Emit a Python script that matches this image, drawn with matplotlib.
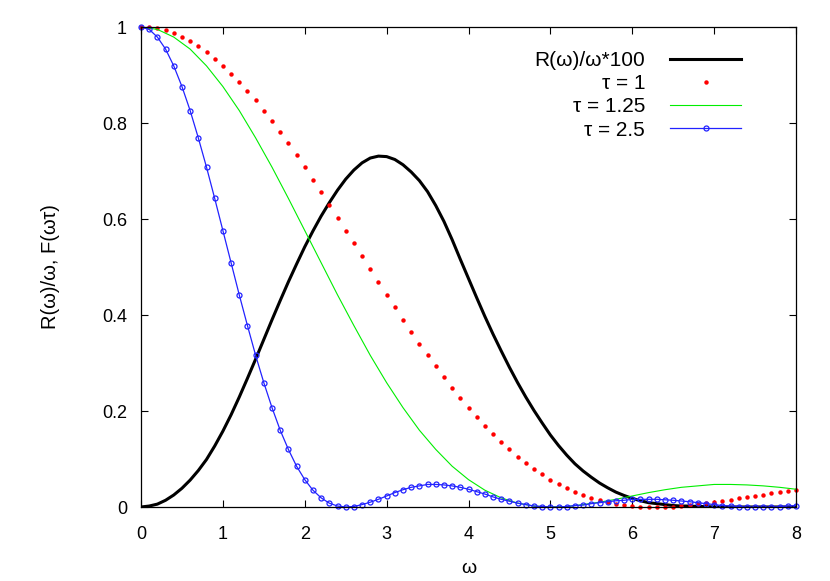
import numpy as np
import matplotlib
matplotlib.use("Agg")
import matplotlib.pyplot as plt

plt.rcParams['font.family'] = ['Liberation Sans', 'DejaVu Sans']

# R(w)/w*100 (step 0.1)
w_r = np.arange(0, 8.01, 0.1)
r_vals = [0.000, 0.002, 0.006, 0.014, 0.025, 0.039, 0.056, 0.076, 0.099, 0.127,
          0.158, 0.192, 0.229, 0.268, 0.308, 0.349, 0.390, 0.430, 0.469, 0.506,
          0.542, 0.575, 0.606, 0.634, 0.660, 0.683, 0.702, 0.717, 0.727, 0.731,
          0.730, 0.724, 0.713, 0.698, 0.680, 0.657, 0.628, 0.595, 0.557, 0.516,
          0.476, 0.436, 0.397, 0.360, 0.325, 0.291, 0.259, 0.229, 0.201, 0.175,
          0.150, 0.128, 0.108, 0.090, 0.075, 0.062, 0.050, 0.040, 0.031, 0.024,
          0.018, 0.013, 0.009, 0.007, 0.005, 0.003, 0.002, 0.002, 0.001, 0.001,
          0.000, 0.000, 0.000, 0.000, 0.000, 0.000, 0.000, 0.000, 0.000, 0.000,
          0.000]

# F(w*tau) for tau = 1 (red dots, step 0.1)
w_1 = np.arange(0, 8.01, 0.1)
f_tau1 = [1.000, 0.999, 0.997, 0.993, 0.987, 0.979, 0.970, 0.960, 0.948, 0.934,
          0.919, 0.903, 0.886, 0.867, 0.847, 0.826, 0.804, 0.781, 0.758, 0.733,
          0.708, 0.682, 0.656, 0.630, 0.603, 0.576, 0.549, 0.522, 0.495, 0.469,
          0.442, 0.416, 0.390, 0.365, 0.340, 0.316, 0.293, 0.270, 0.248, 0.227,
          0.207, 0.187, 0.169, 0.152, 0.135, 0.120, 0.105, 0.092, 0.079, 0.068,
          0.057, 0.048, 0.039, 0.032, 0.025, 0.019, 0.014, 0.010, 0.007, 0.004,
          0.002, 0.001, 0.000, 0.000, 0.000, 0.001, 0.002, 0.004, 0.006, 0.008,
          0.010, 0.013, 0.015, 0.018, 0.021, 0.023, 0.026, 0.029, 0.031, 0.034,
          0.036]

# tau = 1.25 (green line, step 0.2)
w_125 = np.arange(0, 8.01, 0.2)
f_tau125 = [1.000, 0.995, 0.979, 0.954, 0.919, 0.876, 0.826, 0.769, 0.708, 0.643,
            0.576, 0.509, 0.442, 0.378, 0.316, 0.259, 0.207, 0.160, 0.120, 0.085,
            0.057, 0.035, 0.019, 0.008, 0.002, 0.000, 0.001, 0.005, 0.010, 0.016,
            0.023, 0.030, 0.036, 0.041, 0.044, 0.047, 0.047, 0.046, 0.044, 0.041,
            0.037]

# tau = 2.5 (blue line with open circles, step 0.1)
w_25 = np.arange(0, 8.01, 0.1)
f_tau25 = [1.000, 0.995, 0.979, 0.954, 0.919, 0.876, 0.826, 0.769, 0.708, 0.643,
           0.576, 0.509, 0.442, 0.378, 0.316, 0.259, 0.207, 0.160, 0.120, 0.085,
           0.057, 0.035, 0.019, 0.008, 0.002, 0.000, 0.001, 0.005, 0.010, 0.016,
           0.023, 0.030, 0.036, 0.041, 0.044, 0.047, 0.047, 0.046, 0.044, 0.041,
           0.037, 0.032, 0.027, 0.021, 0.016, 0.012, 0.008, 0.005, 0.002, 0.001,
           0.000, 0.000, 0.001, 0.003, 0.004, 0.007, 0.009, 0.011, 0.013, 0.014,
           0.016, 0.016, 0.016, 0.016, 0.015, 0.014, 0.0125, 0.011, 0.009, 0.007,
           0.005, 0.003, 0.002, 0.001, 0.000, 0.000, 0.000, 0.000, 0.001, 0.002,
           0.003]

fig = plt.figure(figsize=(8.3, 5.81), dpi=100)
ax = fig.add_axes([141/830, 1 - 507/581, 655/830, 480/581])

ax.plot(w_r, r_vals, color='black', lw=2.2, label='R(ω)/ω*100')
ax.plot(w_1, f_tau1, ls='none', marker='o', ms=3.2, color='red', mec='none',
        label='τ = 1', clip_on=False)
ax.plot(w_125, f_tau125, color='#00ee00', lw=0.8, label='τ = 1.25')
ax.plot(w_25, f_tau25, color='#2222ff', lw=0.9, marker='o', ms=3.6, mfc='none',
        mew=0.9, label='τ = 2.5', clip_on=False)

ax.set_xlim(0, 8)
ax.set_ylim(0, 1)
ax.set_xticks(range(0, 9))
ax.set_yticks([0, 0.2, 0.4, 0.6, 0.8, 1.0])
ax.set_yticklabels(['0', '0.2', '0.4', '0.6', '0.8', '1'])
ax.tick_params(direction='in', length=5, width=0.8, top=True, right=True,
               labelsize=13)
ax.tick_params(axis='x', pad=14)
ax.tick_params(axis='y', pad=10)
for s in ax.spines.values():
    s.set_linewidth(0.9)

ax.set_xlabel('ω', fontsize=14, labelpad=12)
ax.set_ylabel('R(ω)/ω, F(ωτ)', fontsize=14.5, labelpad=30)

leg = ax.legend(loc='upper right', bbox_to_anchor=(741/830, 1 - 51/581),
                bbox_transform=fig.transFigure, frameon=False, markerfirst=False,
                fontsize=15, handlelength=3.4, handletextpad=1.2,
                labelspacing=0.2, borderpad=0, borderaxespad=0)

fig.savefig('out.png', dpi=100)
